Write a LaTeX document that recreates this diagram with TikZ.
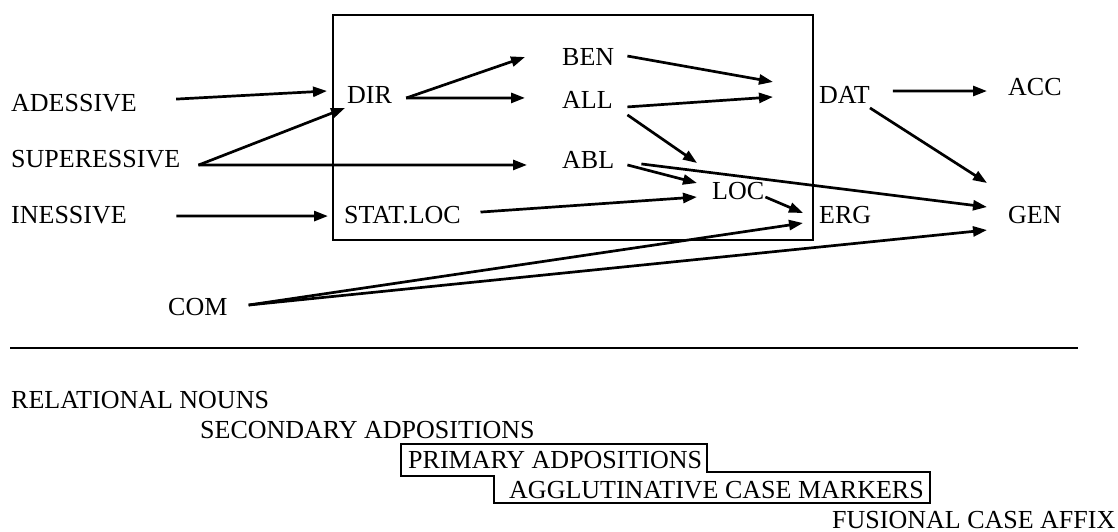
\documentclass[tikz,border=0pt]{standalone}
\usepackage{fontspec}
\setmainfont{Liberation Serif}
\usetikzlibrary{arrows.meta,calc}

\begin{document}
\begin{tikzpicture}[x=1pt,y=-1pt,
  case/.style={anchor=base west,inner sep=0pt,font=\fontsize{26}{30}\selectfont},
  arr/.style={line width=2.7pt,-{Triangle[length=14pt,width=10pt]}}]
\useasboundingbox (0,0) rectangle (1118,532);

% frame round the middle cases
\draw[line width=1.1pt] (333,15) rectangle (813,240);

% cases
\node[case] (ade) at (11,112) {ADESSIVE};
\node[case] (sup) at (11,167) {SUPERESSIVE};
\node[case] (ine) at (11,223) {INESSIVE};
\node[case] (dir) at (347,104) {DIR};
\node[case] (stl) at (344,223) {STAT.LOC};
\node[case] (ben) at (562,66) {BEN};
\node[case] (all) at (562,109) {ALL};
\node[case] (abl) at (562,168) {ABL};
\node[case] (loc) at (712,199) {LOC};
\node[case] (dat) at (819,104) {DAT};
\node[case] (erg) at (819,223) {ERG};
\node[case] (acc) at (1008,96) {ACC};
\node[case] (gen) at (1008,223) {GEN};
\node[case] (com) at (168,315) {COM};

% arrows
\draw[arr] ($(ade.east)+(39,-4.5)$) -- ($(dir.west)+(-20,-4.5)$);
\draw[arr] ($(sup.east)+(18,6.5)$) -- ($(dir.west)+(-2,12.5)$);
\draw[arr] ($(sup.east)+(18,6.5)$) -- ($(abl.west)+(-35,5.5)$);
\draw[arr] ($(ine.east)+(49.5,1.5)$) -- ($(stl.west)+(-16,1.5)$);
\draw[arr] ($(dir.east)+(14,2.5)$) -- ($(ben.west)+(-37,-0.5)$);
\draw[arr] ($(dir.east)+(14,2.5)$) -- ($(all.west)+(-37,-2.5)$);
\draw[arr] ($(ben.east)+(13,-1.5)$) -- ($(dat.west)+(-46,-13.5)$);
\draw[arr] ($(all.east)+(14.5,6.5)$) -- ($(dat.west)+(-46,1.5)$);
\draw[arr] ($(all.east)+(14.5,14.5)$) -- ($(loc.west)+(-15,-27.5)$);
\draw[arr] ($(abl.east)+(13,5.5)$) -- ($(loc.west)+(-15,-7.5)$);
\draw[arr] ($(abl.east)+(27,4.5)$) -- ($(gen.west)+(-21,-7.5)$);
\draw[arr] ($(stl.east)+(19.5,-2.5)$) -- ($(loc.west)+(-15,6.5)$);
\draw[arr] ($(loc.east)+(1,6.5)$) -- ($(erg.west)+(-16,-1.5)$);
\draw[arr] ($(com.east)+(21,-1.5)$) -- ($(erg.west)+(-16,8.5)$);
\draw[arr] ($(com.east)+(21,-1.5)$) -- ($(gen.west)+(-21,15.5)$);
\draw[arr] ($(dat.east)+(23,-4.5)$) -- ($(acc.west)+(-21,3.5)$);
\draw[arr] ($(dat.east)+(0,12.5)$) -- ($(gen.west)+(-21,-31.5)$);

% separator
\draw[line width=1.3pt] (10,348) -- (1078,348);

% scale of markers
\node[case] (rel) at (11,408) {RELATIONAL NOUNS};
\node[case] (sec) at (200,438) {SECONDARY ADPOSITIONS};
\node[case] (prim) at (408,468) {PRIMARY ADPOSITIONS};
\node[case] (agg) at (509,498) {AGGLUTINATIVE CASE MARKERS};
\node[case] (fus) at (832,528) {FUSIONAL CASE AFFIX};
\draw[line width=1.1pt] (401,444) -- (707,444) -- (707,472) -- (930,472)
  -- (930,503) -- (494,503) -- (494,476) -- (401,476) -- cycle;
\end{tikzpicture}
\end{document}
